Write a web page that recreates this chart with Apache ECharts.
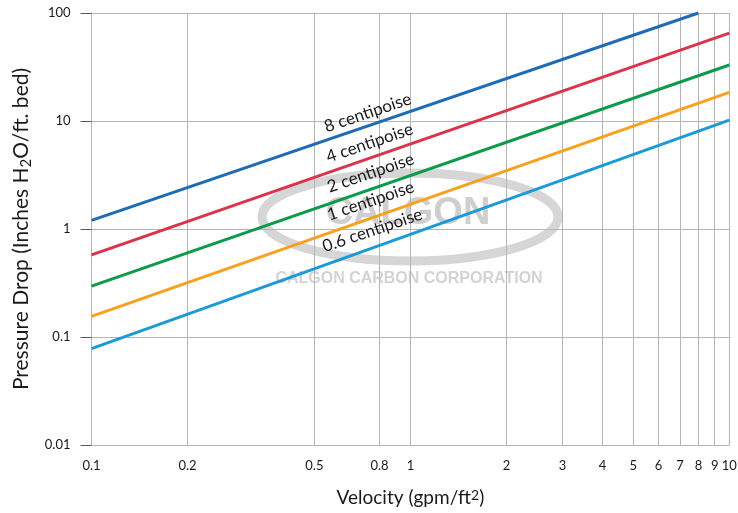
<!DOCTYPE html>
<html>
<head>
<meta charset="utf-8">
<script src="https://cdn.jsdelivr.net/npm/echarts@6/dist/echarts.min.js"></script>
<style>
html,body{margin:0;padding:0;background:#fff;}
#chart{width:738px;height:513px;}
</style>
</head>
<body>
<div id="chart"></div>
<script>
// ---- data ----
var seriesNames = ['8 centipoise', '4 centipoise', '2 centipoise', '1 centipoise', '0.6 centipoise'];
var velocities8 = [0.1, 8];
var drops8 = [1.2, 100];
var velocitiesOther = [0.1, 10];
var drops4 = [0.575, 65];
var drops2 = [0.296, 33];
var drops1 = [0.155, 18.4];
var drops06 = [0.078, 10.2];
var xTickValues = [0.1, 0.2, 0.5, 0.8, 1, 2, 3, 4, 5, 6, 7, 8, 9, 10];
var yTickValues = [0.01, 0.1, 1, 10, 100];

var colors = ['#1f6bb5', '#d9344b', '#0e9a4b', '#f8a11f', '#1b9ad7'];
var labelX = [0.735, 0.745, 0.75, 0.75, 0.76];
var labelY = [11.9, 6.25, 3.3, 1.82, 0.97];

function pairs(xs, ys) { return xs.map(function (x, i) { return [x, ys[i]]; }); }
var allData = [
  pairs(velocities8, drops8),
  pairs(velocitiesOther, drops4),
  pairs(velocitiesOther, drops2),
  pairs(velocitiesOther, drops1),
  pairs(velocitiesOther, drops06)
];

var font = 'Lato, "Open Sans", sans-serif';
var chart = echarts.init(document.getElementById('chart'));

var series = allData.map(function (d, i) {
  return {
    name: seriesNames[i],
    type: 'line',
    data: d,
    symbol: 'none',
    silent: true,
    z: 5,
    lineStyle: { color: colors[i], width: 3 },
    markPoint: {
      symbol: 'circle',
      symbolSize: 0,
      silent: true,
      data: [{
        coord: [labelX[i], labelY[i]],
        label: {
          show: true,
          formatter: seriesNames[i],
          position: 'inside',
          rotate: 18.7,
          color: '#1a1a1a',
          fontSize: 17,
          fontFamily: font
        }
      }]
    }
  };
});

chart.setOption({
  animation: false,
  backgroundColor: '#fff',
  grid: { left: 91.5, right: 8.7, top: 13, bottom: 68, containLabel: false, outerBoundsMode: 'none' },
  graphic: [
    {
      type: 'ellipse', z: 0, silent: true,
      shape: { cx: 410, cy: 217, rx: 148, ry: 44 },
      style: { fill: 'none', stroke: '#d6d6d6', lineWidth: 9 }
    },
    {
      type: 'text', z: 0, silent: true, x: 408, y: 214,
      style: { text: 'CALGON', fill: '#cfcfcf', font: 'bold 38px "Liberation Sans", Arial, sans-serif',
        textAlign: 'center', textVerticalAlign: 'middle' }
    },
    {
      type: 'text', z: 0, silent: true, x: 409, y: 279,
      style: { text: 'CALGON CARBON CORPORATION', fill: '#d3d3d3', font: 'bold 16px "Liberation Sans", Arial, sans-serif',
        textAlign: 'center', textVerticalAlign: 'middle' }
    }
  ],
  xAxis: {
    type: 'log',
    logBase: 10,
    min: 0.1,
    max: 10,
    name: 'Velocity (gpm/ft{sup|2})',
    nameLocation: 'middle',
    nameGap: 43,
    nameTextStyle: {
      fontFamily: font, fontSize: 19, color: '#1a1a1a',
      rich: { sup: { fontSize: 14, verticalAlign: 'top', lineHeight: 12, fontFamily: font, color: '#1a1a1a' } }
    },
    axisLine: { show: true, lineStyle: { color: '#b5b5b5', width: 1 } },
    axisTick: { show: false, customValues: xTickValues },
    axisLabel: {
      customValues: xTickValues,
      margin: 14,
      fontFamily: font, fontSize: 13, color: '#1a1a1a',
      formatter: function (v) { return String(+v.toPrecision(3)); }
    },
    splitLine: { show: true, lineStyle: { color: '#b5b5b5', width: 1 } }
  },
  yAxis: {
    type: 'log',
    logBase: 10,
    min: 0.01,
    max: 100,
    name: 'Pressure Drop (Inches H{sub|2}O/ft. bed)',
    nameLocation: 'middle',
    nameGap: 58,
    nameRotate: 90,
    nameTextStyle: {
      fontFamily: font, fontSize: 21, color: '#1a1a1a', lineHeight: 24,
      rich: { sub: { fontSize: 15, verticalAlign: 'bottom', lineHeight: 14, fontFamily: font, color: '#1a1a1a' } }
    },
    axisLine: { show: true, lineStyle: { color: '#b5b5b5', width: 1 } },
    axisTick: { show: true, length: 11, customValues: yTickValues, lineStyle: { color: '#555', width: 1 } },
    axisLabel: {
      customValues: yTickValues,
      margin: 21,
      fontFamily: font, fontSize: 13, color: '#1a1a1a',
      formatter: function (v) { return String(+v.toPrecision(3)); }
    },
    splitLine: { show: true, lineStyle: { color: '#b5b5b5', width: 1 } }
  },
  series: series
});
</script>
</body>
</html>
